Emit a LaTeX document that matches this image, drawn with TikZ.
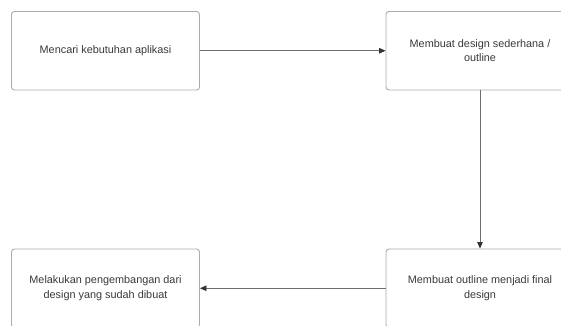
\documentclass[tikz,border=0pt]{standalone}
\usepackage{fontspec}
\setmainfont{Liberation Sans}
\usetikzlibrary{arrows.meta}
\definecolor{boxline}{HTML}{ABABAB}
\definecolor{txt}{HTML}{3A3A3A}
\definecolor{arr}{HTML}{6E6E6E}
\definecolor{tip}{HTML}{333333}
\tikzset{
  stepbox/.style={draw=boxline, line width=0.9bp, rounded corners=3bp, minimum width=188bp, minimum height=78.5bp, inner sep=0pt, align=center, text=txt, font=\fontsize{10.9}{14.3}\selectfont},
  flow/.style={draw=arr, line width=0.8bp, -{Triangle[length=6.5bp,width=5.5bp,color=tip]}}
}
\begin{document}
\begin{tikzpicture}[x=1bp,y=1bp]
\useasboundingbox (0,0) rectangle (561,325);
\clip (0,0) rectangle (561,325);
\fill[white] (0,0) rectangle (561,325);
\node[stepbox] (a) at (105.5,274.25) {Mencari kebutuhan aplikasi};
\node[stepbox] (b) at (480,274.25) {Membuat design sederhana /\\outline};
\node[stepbox] (c) at (480,36.75) {Membuat outline menjadi final\\design};
\node[stepbox] (d) at (105.5,36.75) {Melakukan pengembangan dari\\design yang sudah dibuat};
\draw[flow] (a.east) -- (b.west);
\draw[flow] (b.south) -- (c.north);
\draw[flow] (c.west) -- (d.east);
\end{tikzpicture}
\end{document}
